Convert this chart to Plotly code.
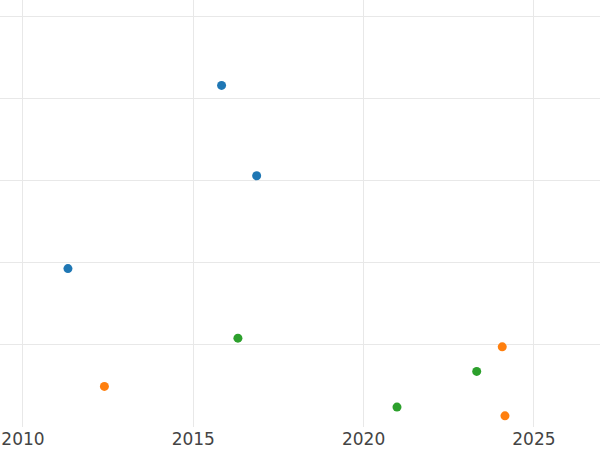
import plotly.graph_objects as go

blue_x = [2015.83, 2016.86, 2011.32]
blue_y = [41.6, 30.6, 19.3]
orange_x = [2012.39, 2024.07, 2024.15]
orange_y = [4.95, 9.77, 1.37]
green_x = [2016.31, 2023.32, 2020.98]
green_y = [10.83, 6.78, 2.43]

fig = go.Figure()
for xs, ys, c in [(blue_x, blue_y, "#1f77b4"), (orange_x, orange_y, "#ff7f0e"), (green_x, green_y, "#2ca02c")]:
    fig.add_trace(go.Scatter(x=xs, y=ys, mode="markers",
                             marker=dict(color=c, size=9), showlegend=False))

fig.update_layout(
    width=600, height=450,
    margin=dict(l=0, r=0, t=0, b=23),
    plot_bgcolor="white", paper_bgcolor="white",
    font=dict(family="DejaVu Sans", size=17, color="#444"),
    xaxis=dict(range=[2009.325, 2026.94], tick0=2010, dtick=5, showgrid=True,
               gridcolor="#e8e8e8", gridwidth=1, zeroline=False, showline=False,
               ticks=""),
    yaxis=dict(range=[0.01, 52.0], tick0=0, dtick=10, showgrid=True,
               gridcolor="#e8e8e8", gridwidth=1, zeroline=False, showline=False,
               showticklabels=False, ticks=""),
)
fig.write_html("out.html", config={"displayModeBar": False},
               post_script="document.body.style.margin='0';document.body.style.overflow='hidden';")
